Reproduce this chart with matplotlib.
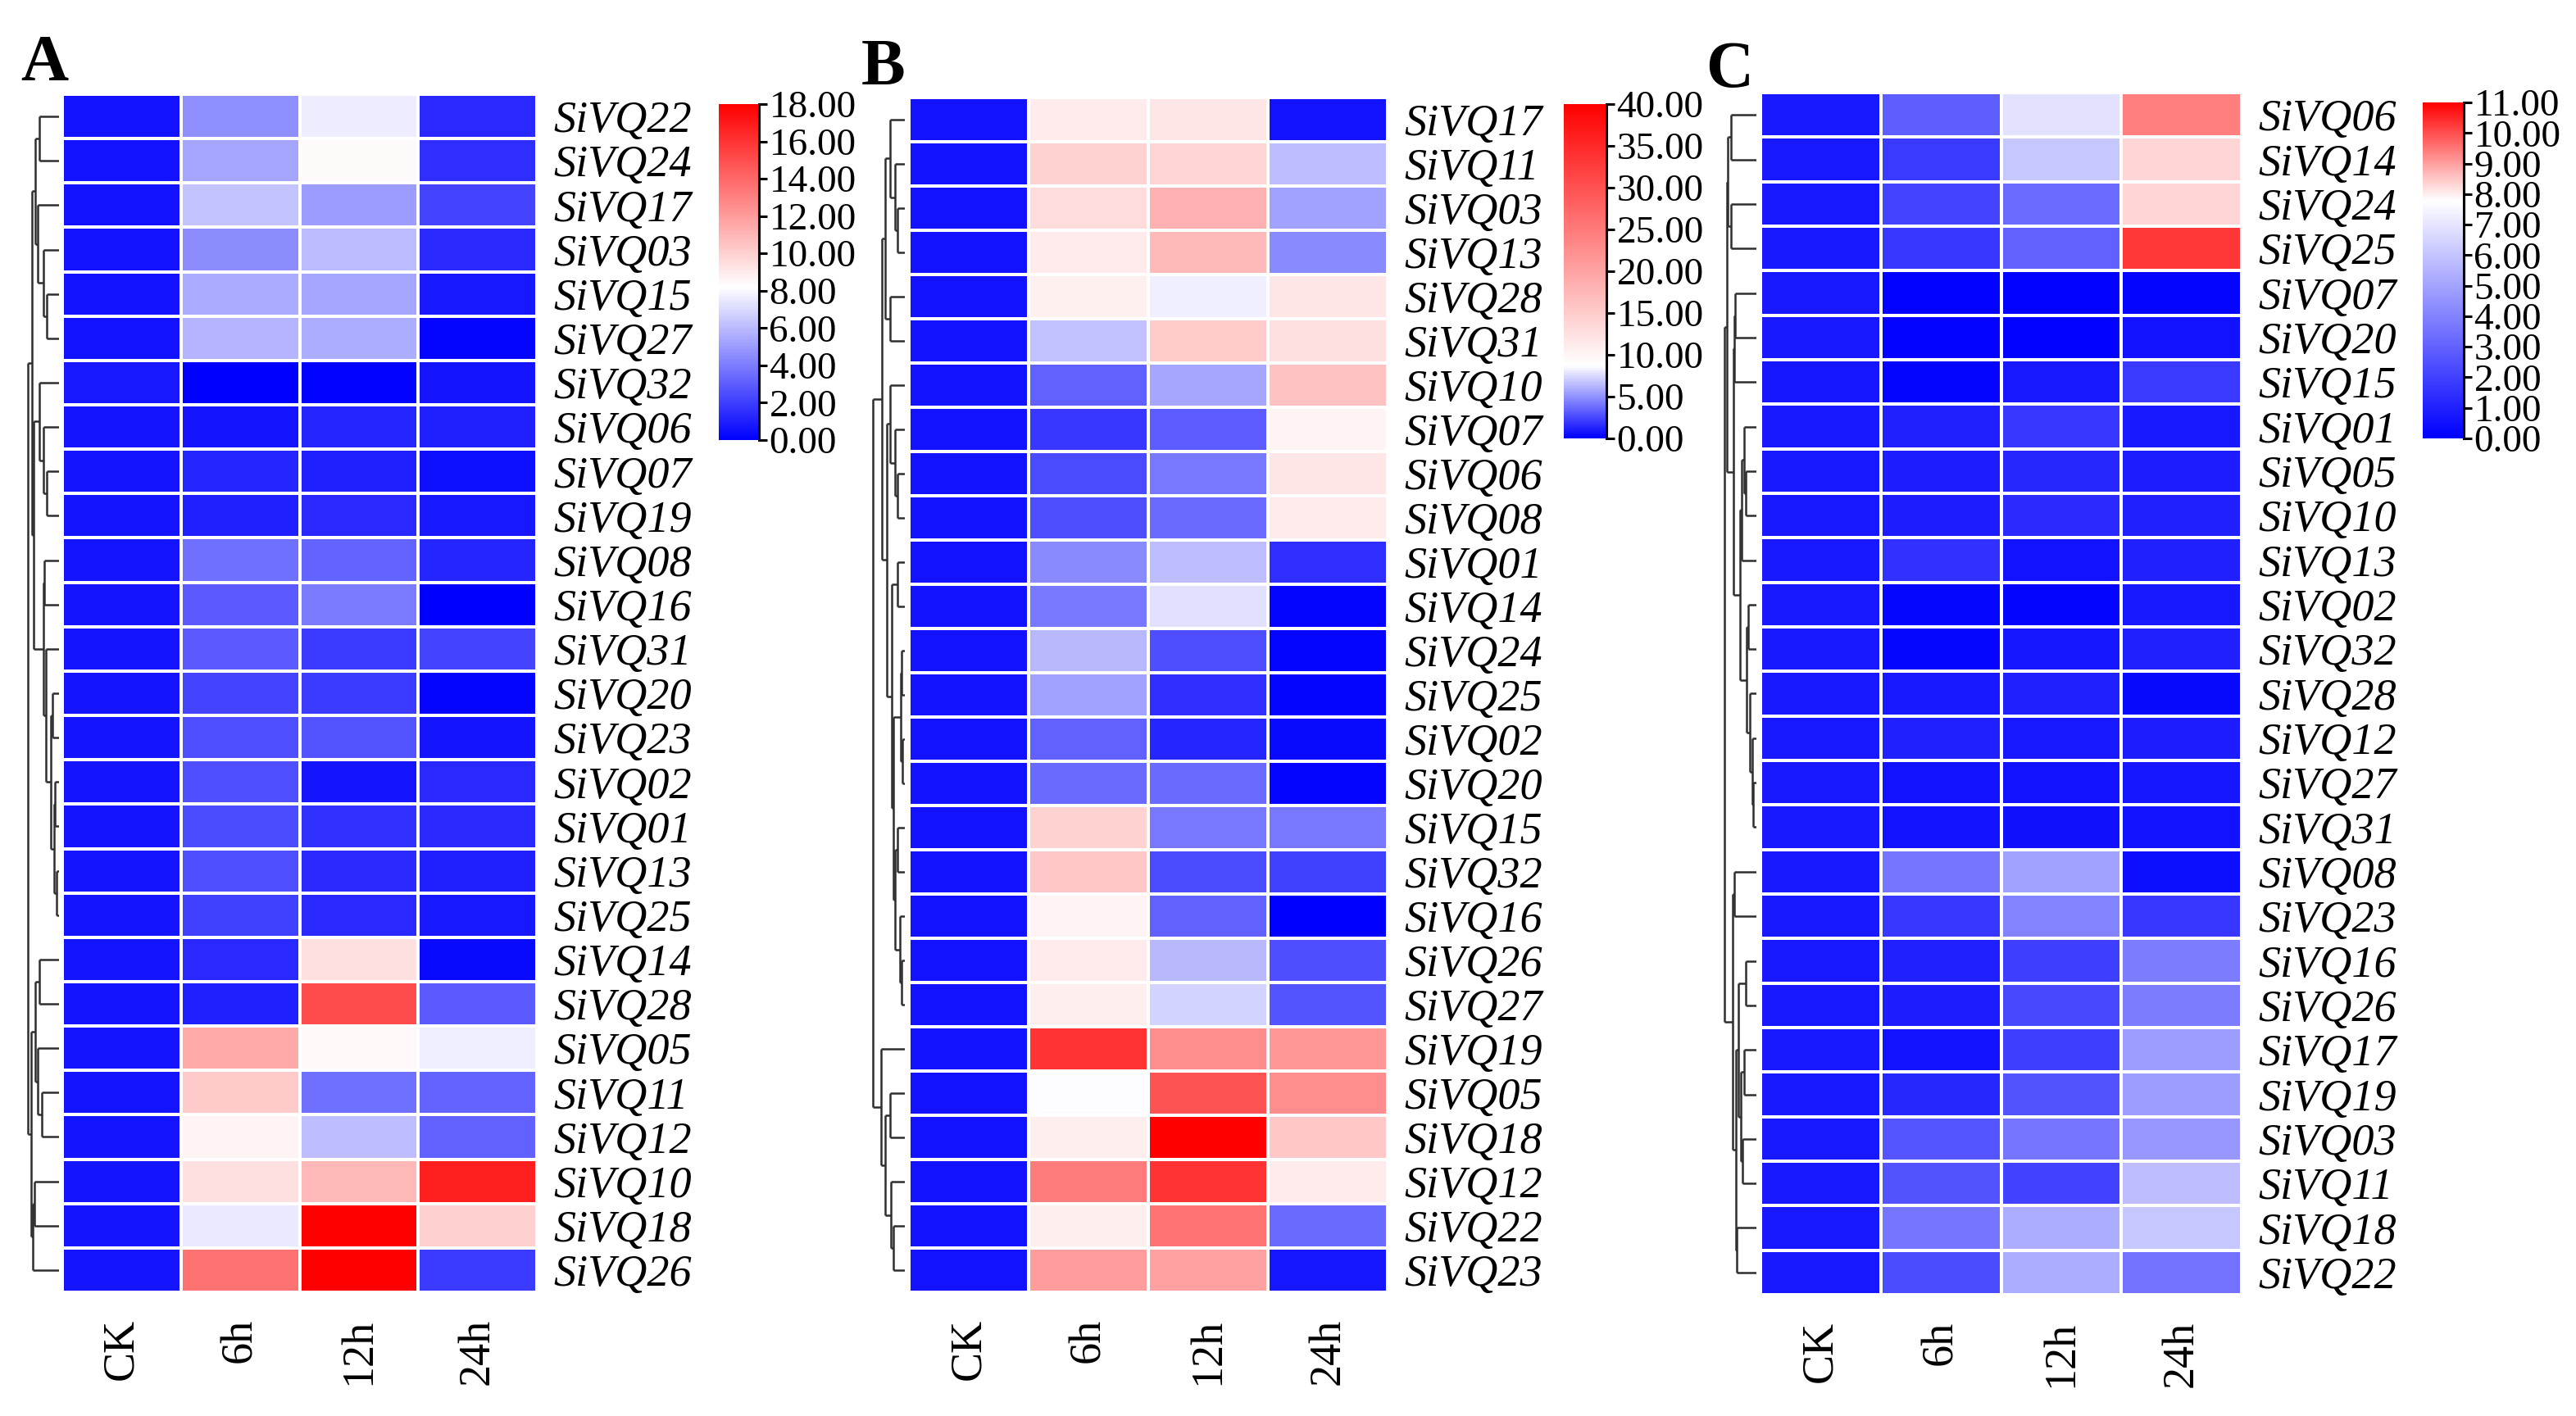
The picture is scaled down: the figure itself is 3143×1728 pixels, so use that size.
import numpy as np
import matplotlib
matplotlib.use("Agg")
import matplotlib.pyplot as plt
from matplotlib.colors import LinearSegmentedColormap, Normalize

# =============================
# Data (expression)
# =============================

columns = ["CK", "6h", "12h", "24h"]

genes_a = ["SiVQ22", "SiVQ24", "SiVQ17", "SiVQ03", "SiVQ15", "SiVQ27", "SiVQ32",
           "SiVQ06", "SiVQ07", "SiVQ19", "SiVQ08", "SiVQ16", "SiVQ31", "SiVQ20",
           "SiVQ23", "SiVQ02", "SiVQ01", "SiVQ13", "SiVQ25", "SiVQ14", "SiVQ28",
           "SiVQ05", "SiVQ11", "SiVQ12", "SiVQ10", "SiVQ18", "SiVQ26"]
values_a = [
    [0.6, 4.6, 7.6, 1.3],
    [0.6, 5.3, 8.4, 1.5],
    [0.6, 6.3, 5.0, 2.2],
    [0.6, 4.5, 6.0, 1.4],
    [0.6, 5.5, 5.3, 0.8],
    [0.6, 5.8, 5.6, 0.2],
    [0.8, 0.05, 0.1, 0.7],
    [0.7, 0.7, 1.2, 1.0],
    [0.7, 1.2, 1.0, 0.5],
    [0.7, 1.0, 1.3, 0.8],
    [0.7, 3.6, 3.2, 1.2],
    [0.7, 2.9, 4.0, 0.05],
    [0.7, 2.9, 1.9, 2.2],
    [0.7, 2.2, 1.9, 0.2],
    [0.7, 2.6, 2.7, 0.7],
    [0.7, 2.6, 0.7, 1.3],
    [0.7, 2.4, 1.6, 1.4],
    [0.7, 2.6, 1.4, 1.0],
    [0.7, 2.1, 1.3, 0.8],
    [0.7, 1.3, 9.4, 0.3],
    [0.7, 1.0, 15.1, 2.9],
    [0.7, 11.5, 8.5, 7.7],
    [0.7, 10.2, 3.6, 3.2],
    [0.7, 8.6, 6.1, 3.1],
    [0.7, 9.4, 10.9, 16.8],
    [0.7, 7.5, 18.0, 10.0],
    [0.7, 13.6, 18.0, 1.9],
]

genes_b = ["SiVQ17", "SiVQ11", "SiVQ03", "SiVQ13", "SiVQ28", "SiVQ31", "SiVQ10",
           "SiVQ07", "SiVQ06", "SiVQ08", "SiVQ01", "SiVQ14", "SiVQ24", "SiVQ25",
           "SiVQ02", "SiVQ20", "SiVQ15", "SiVQ32", "SiVQ16", "SiVQ26", "SiVQ27",
           "SiVQ19", "SiVQ05", "SiVQ18", "SiVQ12", "SiVQ22", "SiVQ23"]
values_b = [
    [0.7, 11.2, 11.8, 0.7],
    [0.7, 14.3, 14.0, 6.5],
    [0.7, 13.1, 18.4, 5.5],
    [0.7, 11.2, 17.2, 4.8],
    [0.7, 10.6, 8.2, 11.8],
    [0.7, 6.6, 15.0, 12.5],
    [0.7, 3.4, 5.7, 16.2],
    [0.7, 1.9, 3.2, 10.0],
    [0.7, 2.5, 4.1, 11.8],
    [0.7, 2.7, 3.7, 11.2],
    [0.7, 4.8, 6.5, 1.6],
    [0.7, 4.1, 7.7, 0.2],
    [0.7, 6.4, 2.7, 0.2],
    [0.7, 5.5, 1.7, 0.2],
    [0.7, 3.4, 1.4, 0.35],
    [0.7, 3.6, 3.7, 0.2],
    [0.7, 14.3, 4.1, 4.1],
    [0.7, 15.6, 2.5, 2.2],
    [0.7, 10.3, 3.4, 0.05],
    [0.7, 11.2, 6.4, 2.7],
    [0.7, 10.9, 7.3, 2.9],
    [0.7, 33.7, 22.8, 21.5],
    [0.7, 8.7, 29.7, 22.8],
    [0.7, 10.9, 40.0, 15.6],
    [0.7, 24.7, 33.7, 11.2],
    [0.7, 10.9, 25.9, 3.7],
    [0.7, 20.9, 20.3, 0.9],
]

genes_c = ["SiVQ06", "SiVQ14", "SiVQ24", "SiVQ25", "SiVQ07", "SiVQ20", "SiVQ15",
           "SiVQ01", "SiVQ05", "SiVQ10", "SiVQ13", "SiVQ02", "SiVQ32", "SiVQ28",
           "SiVQ12", "SiVQ27", "SiVQ31", "SiVQ08", "SiVQ23", "SiVQ16", "SiVQ26",
           "SiVQ17", "SiVQ19", "SiVQ03", "SiVQ11", "SiVQ18", "SiVQ22"]
values_c = [
    [0.75, 2.9, 6.9, 9.4],
    [0.75, 1.8, 6.1, 8.3],
    [0.75, 2.1, 3.3, 8.3],
    [0.75, 1.7, 3.0, 10.3],
    [0.75, 0.05, 0.05, 0.15],
    [0.75, 0.1, 0.05, 0.6],
    [0.7, 0.15, 0.75, 1.8],
    [0.75, 1.0, 1.7, 0.75],
    [0.75, 0.9, 1.2, 0.9],
    [0.75, 0.9, 1.3, 1.0],
    [0.75, 1.5, 0.6, 1.0],
    [0.75, 0.2, 0.15, 0.75],
    [0.75, 0.2, 0.7, 1.0],
    [0.75, 0.75, 1.0, 0.3],
    [0.75, 1.0, 0.75, 0.9],
    [0.75, 0.6, 0.6, 0.7],
    [0.75, 0.6, 0.5, 0.6],
    [0.75, 3.6, 4.9, 0.45],
    [0.75, 1.7, 4.0, 1.7],
    [0.75, 1.0, 1.9, 3.8],
    [0.75, 0.9, 2.2, 3.8],
    [0.75, 0.6, 1.9, 4.8],
    [0.75, 1.2, 2.5, 4.8],
    [0.75, 2.6, 3.6, 4.6],
    [0.75, 2.5, 2.0, 5.8],
    [0.75, 3.6, 5.3, 6.1],
    [0.75, 2.3, 5.3, 3.5],
]

# colour scale: max of the bar and value that maps to white
vmax_a, white_a, step_a = 18, 8.2, 2
vmax_b, white_b, step_b = 40, 8.7, 5
vmax_c, white_c, step_c = 11, 7.8, 1

# cluster trees: (height, left, right), leaves are row numbers
tree_a = (1.0,
          (0.87,
           (0.77, (0.62, 0, 1), (0.69, 2, (0.51, 3, (0.38, 4, 5)))),
           (0.8,
            (0.62, 6, (0.51, 7, (0.38, 8, 9))),
            (0.5, (0.46, 10, 11),
             (0.41, 12, (0.26, (0.21, 13, 14),
                         (0.16, (0.13, 15, 16), (0.08, 17, 18))))))),
          (0.9,
           (0.75, (0.62, 19, 20), (0.67, 21, (0.54, 22, 23))),
           (0.84, (0.79, 24, 25), 26)))

tree_b = (1.0,
          (0.72,
           (0.6, (0.47, 0, (0.3, 1, (0.23, 2, 3))), (0.47, 4, 5)),
           (0.55,
            (0.47, 6, (0.3, 7, (0.23, 8, 9))),
            (0.42, (0.23, 10, 11),
             (0.35, (0.14, (0.09, 12, 13), (0.07, 14, 15)),
              (0.3, (0.23, 16, 17), (0.16, 18, (0.09, 19, 20))))))),
          (0.75, 21,
           (0.6, (0.47, 22, 23), (0.44, 24, (0.35, 25, 26)))))

tree_c = (1.0,
          (0.93,
           (0.9, (0.78, 0, 1), (0.78, 2, 3)),
           (0.72, (0.69, (0.66, 4, 5), 6),
            (0.5, (0.45, (0.38, 7, (0.34, 8, 9)), 10),
             (0.3, (0.26, 11, 12), (0.2, 13, (0.12, 14, (0.09, 15, 16))))))),
          (0.75, (0.69, 17, 18),
           (0.65, (0.55, (0.34, 19, 20),
                   (0.48, (0.38, 21, 22), (0.43, 23, 24))),
            (0.6, 25, 26))))

# =============================
# Layout (pixels of the 3143 x 1728 picture)
# =============================

W, H = 3143, 1728
plt.rcParams["font.family"] = ["Liberation Serif", "DejaVu Serif"]

fig = plt.figure(figsize=(W / 100, H / 100), dpi=100)


def caixa(x0, y0, x1, y1):
    return fig.add_axes([x0 / W, 1 - y1 / H, (x1 - x0) / W, (y1 - y0) / H])


def desenha_arvore(ax, no):
    """Desenha a árvore recursivamente, devolve (y, altura) do nó."""
    if isinstance(no, int):
        return no + 0.5, 0.0
    h, esq, dir = no
    y1, h1 = desenha_arvore(ax, esq)
    y2, h2 = desenha_arvore(ax, dir)
    kw = dict(color="#2e2e2e", lw=1.8, solid_capstyle="butt")
    ax.plot([h1, h], [y1, y1], **kw)
    ax.plot([h2, h], [y2, y2], **kw)
    ax.plot([h, h], [y1, y2], **kw)
    return (y1 + y2) / 2, h


def painel(letra, genes, valores, arvore, vmax, branco, passo,
           heat_px, dendro_px, cbar_px, letra_px):
    dados = np.array(valores)
    n = len(genes)
    cmap = LinearSegmentedColormap.from_list(
        "bwr_" + letra, [(0, "#0000ff"), (branco / vmax, "#ffffff"), (1, "#ff0000")])
    norm = Normalize(0, vmax)

    ax = caixa(*heat_px)
    mesh = ax.pcolormesh(dados, cmap=cmap, norm=norm,
                         edgecolors="white", linewidth=1.6)
    ax.set_xlim(0, len(columns))
    ax.set_ylim(n, 0)
    for s in ax.spines.values():
        s.set_visible(False)
    ax.set_xticks(np.arange(len(columns)) + 0.5)
    ax.set_xticklabels(columns, rotation=90, fontsize=39)
    ax.set_yticks(np.arange(n) + 0.5)
    ax.set_yticklabels(genes, fontsize=39, style="italic")
    ax.yaxis.tick_right()
    ax.tick_params(axis="y", length=0, pad=15)
    ax.tick_params(axis="x", length=0, pad=23)

    ad = caixa(*dendro_px)
    desenha_arvore(ad, arvore)
    ad.set_xlim(1.02, 0)
    ad.set_ylim(n, 0)
    ad.axis("off")

    cax = caixa(*cbar_px)
    cb = fig.colorbar(mesh, cax=cax)
    cb.outline.set_visible(False)
    cax.plot([1, 1], [0, 1], transform=cax.transAxes, color="black",
             lw=2.2, clip_on=False)
    cb.set_ticks(np.arange(0, vmax + 0.01, passo))
    cb.ax.yaxis.set_major_formatter(matplotlib.ticker.FormatStrFormatter("%.2f"))
    cax.tick_params(labelsize=34, length=7, width=2.2, pad=2, direction="out")

    fig.text(letra_px[0] / W, 1 - letra_px[1] / H, letra, fontsize=58,
             fontweight="bold", va="baseline", ha="left")


painel("A", genes_a, values_a, tree_a, vmax_a, white_a, step_a,
       (76, 115, 655, 1577), (33, 115, 72, 1577), (877, 127, 926, 537), (25, 98))
painel("B", genes_b, values_b, tree_b, vmax_b, white_b, step_b,
       (1109, 119, 1693, 1577), (1064, 119, 1104, 1577), (1908, 127, 1960, 535), (1051, 103))
painel("C", genes_c, values_c, tree_c, vmax_c, white_c, step_c,
       (2148, 113, 2735, 1580), (2103, 113, 2143, 1580), (2956, 125, 3006, 535), (2081, 106))

fig.savefig("out.png", dpi=100)
